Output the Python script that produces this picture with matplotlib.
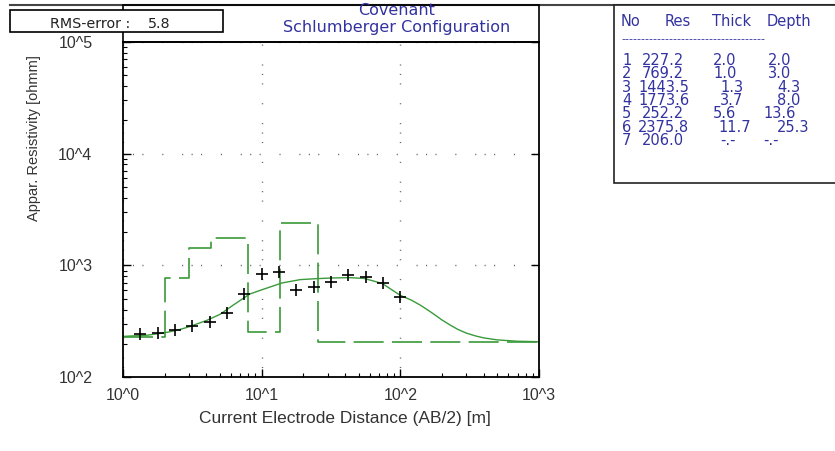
import numpy as np
import matplotlib.pyplot as plt
from matplotlib.patches import Rectangle
from matplotlib.lines import Line2D
from matplotlib.ticker import LogLocator, NullFormatter

plt.rcParams['font.family'] = ['Liberation Sans', 'DejaVu Sans']

# measured sounding (AB/2 [m], apparent resistivity [ohmm])
ab2 = [1.33, 1.78, 2.37, 3.16, 4.22, 5.62, 7.5, 10.0, 13.3, 17.8, 23.7,
       31.6, 42.2, 56.2, 75.0, 100.0]
rho_obs = [244, 248, 266, 290, 311, 373, 550, 832, 873, 601, 635,
           711, 814, 796, 703, 518]

# model response curve
ab2_fit = [1, 1.5, 2, 2.5, 3, 4, 5, 6.2, 8.2, 10, 14, 19, 25, 32, 43, 55,
           74, 100, 120, 140, 160, 180, 200, 230, 260, 300, 350, 400, 500,
           700, 1000]
rho_fit = [232, 238, 250, 265, 283, 322, 365, 440, 555, 605, 697, 747, 762,
           772, 778, 765, 690, 540, 490, 440, 395, 357, 325, 292, 268, 248,
           234, 225, 216, 210, 208]

# layered model
layer_no = [1, 2, 3, 4, 5, 6, 7]
layer_res = [227.2, 769.2, 1443.5, 1773.6, 252.2, 2375.8, 206.0]
layer_thick = [2.0, 1.0, 1.3, 3.7, 5.6, 11.7, None]
layer_depth = [2.0, 3.0, 4.3, 8.0, 13.6, 25.3, None]

x_ticks = [1, 10, 100, 1000]
x_tick_labels = ['10^0', '10^1', '10^2', '10^3']
y_ticks = [100, 1000, 10000, 100000]
y_tick_labels = ['10^2', '10^3', '10^4', '10^5']

rms_error = 5.8
title_lines = ['Covenant', 'Schlumberger Configuration']
table_header = ['No', 'Res', 'Thick', 'Depth']

W, H = 835, 451
fig = plt.figure(figsize=(W / 100, H / 100), dpi=100)
fig.patch.set_facecolor('white')


def fx(x):
    return x / W


def fy(y):
    return 1 - y / H


blue = '#3232a0'
green = '#3a9a3a'
dv = 'DejaVu Sans'

ax = fig.add_axes([fx(123), fy(377.3), (539 - 123) / W, (377.3 - 41.7) / H])
ax.set_xscale('log')
ax.set_yscale('log')

# model steps
edges = [1] + [d for d in layer_depth if d is not None] + [1000]
ax.step(edges, layer_res + [layer_res[-1]], where='post', color=green,
        lw=1.2, linestyle=(0, (18, 5)))
ax.plot(ab2_fit, rho_fit, color=green, lw=1.0)
ax.plot(ab2, rho_obs, linestyle='none', marker='+', color='black',
        markersize=8, mew=1.2)

ax.set_xlim(1, 1000)
ax.set_ylim(100, 1e5)
ax.set_xticks(x_ticks, x_tick_labels)
ax.set_yticks(y_ticks, y_tick_labels)
ax.xaxis.set_minor_locator(LogLocator(base=10, subs=np.arange(2, 10)))
ax.yaxis.set_minor_locator(LogLocator(base=10, subs=np.arange(2, 10)))
ax.xaxis.set_minor_formatter(NullFormatter())
ax.yaxis.set_minor_formatter(NullFormatter())
ax.tick_params(which='major', direction='in', length=6, width=1,
               labelsize=11.5, colors='black', labelcolor='#333333')
ax.tick_params(which='minor', direction='in', length=3, width=0.8)
ax.tick_params(axis='x', which='major', pad=8)
ax.tick_params(axis='y', which='major', pad=22, right=True)
ax.grid(which='major', color='#666666',
        linestyle=(0, (0.8, 6, 0.8, 6, 0.8, 13.5, 0.8, 13.5)), lw=1.0)
for s in ax.spines.values():
    s.set_linewidth(1.3)
    s.set_color('black')

fig.text(fx(345), fy(419), 'Current Electrode Distance (AB/2) [m]',
         ha='center', va='center', fontsize=12.5, color='#333333')
fig.text(fx(34), fy(138), 'Appar. Resistivity [ohmm]', rotation=90,
         ha='center', va='center', fontsize=10.5, color='#333333')

# frame pieces
fig.add_artist(Line2D([fx(10), fx(835)], [fy(5), fy(5)], color='#444444',
                      lw=1.5, transform=fig.transFigure))
fig.add_artist(Rectangle((fx(123), fy(41.7)), (539 - 123) / W,
                         (41.7 - 5) / H, transform=fig.transFigure,
                         fill=False, edgecolor='black', lw=1.2, zorder=4))
for i, line in enumerate(title_lines):
    fig.text(fx(397), fy(15 + 17.2 * i), line, ha='center', va='baseline',
             fontsize=11.5, family=dv, color=blue, zorder=6)

fig.add_artist(Rectangle((fx(10), fy(32.3)), (223 - 10) / W, (32.3 - 10) / H,
                         transform=fig.transFigure, facecolor='white',
                         edgecolor='black', lw=1.2, zorder=5))
fig.text(fx(50), fy(28.3), 'RMS-error :', ha='left', va='baseline',
         fontsize=10.3, family=dv, color='#222222', zorder=6)
fig.text(fx(148), fy(28.3), f'{rms_error:.1f}', ha='left', va='baseline',
         fontsize=10.3, family=dv, color='#222222', zorder=6)

# layer table
fig.add_artist(Rectangle((fx(614), fy(183)), (840 - 614) / W, (183 - 5) / H,
                         transform=fig.transFigure, facecolor='white',
                         edgecolor='#222222', lw=1.2, zorder=4))
for x, h in zip([621, 665, 712, 767], table_header):
    fig.text(fx(x), fy(26), h, ha='left', va='baseline', fontsize=10.5,
             family=dv, color=blue, zorder=6)
fig.text(fx(621), fy(42.5), '-' * 36, ha='left', va='baseline', fontsize=8,
         family=dv, color=blue, zorder=6)

col_no_x = 622
col_res_x = [642, 642, 638, 638, 642, 638, 642]
col_thick_x = [713, 713, 720, 720, 713, 718, 720]
col_depth_x = [768, 768, 777, 777, 763, 777, 763]
for i in range(len(layer_no)):
    y = 65 + 13.33 * i
    th = '-.-' if layer_thick[i] is None else f'{layer_thick[i]:.1f}'
    dp = '-.-' if layer_depth[i] is None else f'{layer_depth[i]:.1f}'
    cells = [str(layer_no[i]), f'{layer_res[i]:.1f}', th, dp]
    xs = [col_no_x, col_res_x[i], col_thick_x[i], col_depth_x[i]]
    for x, c in zip(xs, cells):
        fig.text(fx(x), fy(y), c, ha='left', va='baseline', fontsize=10.5,
                 family=dv, color=blue, zorder=6)

fig.savefig('out.png', dpi=100)
